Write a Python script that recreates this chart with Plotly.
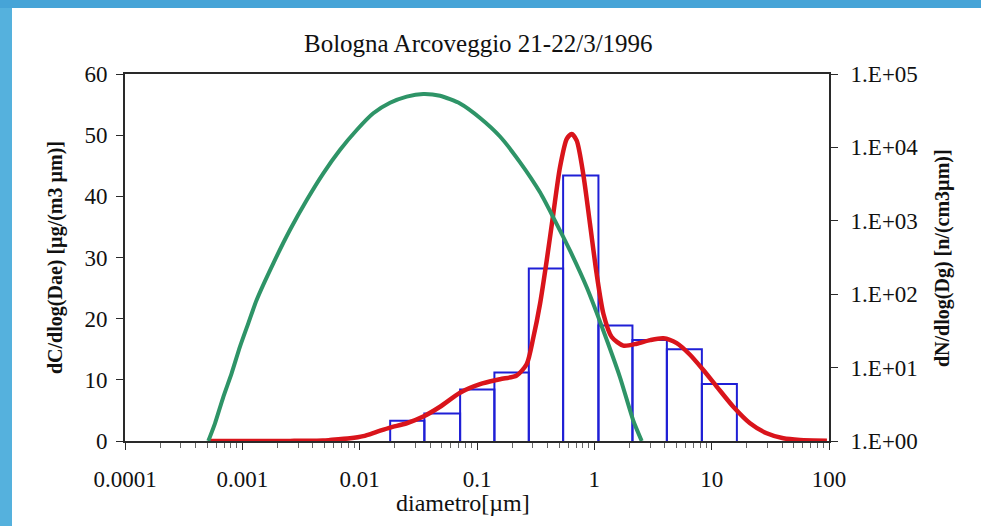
import plotly.graph_objects as go

# Impactor stages: bin edges (µm) and measured mass concentration per stage
bin_edges = [0.0182, 0.0356, 0.0718, 0.1407, 0.2764, 0.542, 1.084, 2.113, 4.151, 8.25, 16.4]
mass_bins = [3.3, 4.5, 8.4, 11.2, 28.2, 43.4, 18.9, 16.5, 15.0, 9.3]

# Fitted mass distribution dC/dlog(Dae) (left axis)
mass_fit_d = [0.000511, 0.00116, 0.00255, 0.00487, 0.00558, 0.00828, 0.01074, 0.01396,
              0.01816, 0.02518, 0.03483, 0.04842, 0.07161, 0.1062, 0.1570, 0.2178,
              0.2655, 0.3020, 0.3443, 0.3926, 0.4466, 0.5090, 0.5822, 0.6412, 0.7079,
              0.8052, 0.9183, 1.047, 1.194, 1.406, 1.766, 2.296, 2.985, 3.873, 5.036,
              6.536, 8.490, 11.04, 15.29, 21.23, 29.44, 40.81, 56.62, 96.0]
mass_fit = [0.0, 0.0, 0.02, 0.08, 0.16, 0.44, 0.8, 1.5,
            2.2, 2.9, 4.0, 5.6, 7.9, 9.3, 10.1, 10.7,
            12.6, 16.9, 22.4, 29.5, 37.1, 44.7, 49.4, 50.2, 49.1,
            43.6, 35.5, 27.3, 20.8, 17.0, 15.6, 15.9, 16.5, 16.8, 16.0,
            14.1, 11.6, 8.9, 5.6, 2.9, 1.26, 0.44, 0.16, 0.05]

# Fitted number distribution dN/dlog(Dg) (right axis)
number_fit_d = [0.000513, 0.000585, 0.000689, 0.000810, 0.000955, 0.001124, 0.001324,
                0.001837, 0.002545, 0.003540, 0.004897, 0.006788, 0.009441, 0.01306,
                0.01816, 0.02518, 0.03483, 0.04842, 0.07161, 0.1062, 0.1570, 0.2328,
                0.3443, 0.4466, 0.6209, 0.8610, 1.194, 1.655, 2.149, 2.535]
number_fit = [1.0, 1.74, 4.0, 8.36, 19.3, 40.1, 83.4,
              263.6, 749, 1920, 4437, 9220, 17260, 29150,
              40500, 49230, 53430, 50470, 39630, 25160, 14070, 6266,
              2445, 1116, 391.5, 124.1, 31.8, 7.38, 1.89, 1.0]

x_ticks = [0.0001, 0.001, 0.01, 0.1, 1, 10, 100]
x_labels = ["0.0001", "0.001", "0.01", "0.1", "1", "10", "100"]
y2_ticks = [1, 10, 100, 1000, 10000, 100000]
y2_labels = ["1.E+00", "1.E+01", "1.E+02", "1.E+03", "1.E+04", "1.E+05"]

# minor ticks at 2..9 within each decade
x_minor = [k * d for d in x_ticks[:-1] for k in range(2, 10)]

SERIF = "Liberation Serif, Times New Roman, serif"
AXIS_COLOR = "#2a2a2a"
TEXT_COLOR = "#111111"
FIG_W, FIG_H = 981, 526


def px_x(px):
    """Horizontal pixel position -> paper fraction."""
    return (px - 125) / 704


def px_y(py):
    """Vertical pixel position -> paper fraction."""
    return (441 - py) / 367


# Outline of each stage as a rectangle standing on the axis
hist_x, hist_y = [], []
for lo, hi, h in zip(bin_edges[:-1], bin_edges[1:], mass_bins):
    hist_x += [lo, lo, hi, hi, None]
    hist_y += [0, h, h, 0, None]

fig = go.Figure()
fig.add_trace(go.Scatter(x=hist_x, y=hist_y, mode="lines",
                         line=dict(color="#1f1fd6", width=2), showlegend=False,
                         hoverinfo="skip"))
fig.add_trace(go.Scatter(x=mass_fit_d, y=mass_fit, mode="lines",
                         line=dict(color="#d9141b", width=4.5, shape="spline", smoothing=0.7),
                         showlegend=False))
fig.add_trace(go.Scatter(x=number_fit_d, y=number_fit, mode="lines", yaxis="y2",
                         line=dict(color="#2e9467", width=4, shape="spline", smoothing=0.6),
                         showlegend=False))

# slide frame: blue bands along the top and left edges, kept inside the page
fig.add_shape(type="rect", xref="paper", yref="paper",
              x0=px_x(0), x1=px_x(FIG_W), y0=px_y(8), y1=px_y(0),
              fillcolor="#46a4d7", line=dict(width=0), layer="below")
fig.add_shape(type="rect", xref="paper", yref="paper",
              x0=px_x(0), x1=px_x(12), y0=px_y(FIG_H), y1=px_y(8),
              fillcolor="#55b1dd", line=dict(width=0), layer="below")

fig.update_layout(
    width=FIG_W, height=FIG_H,
    margin=dict(l=125, r=152, t=74, b=85),
    paper_bgcolor="white",
    plot_bgcolor="white",
    font=dict(family=SERIF, color=TEXT_COLOR, size=23),
    showlegend=False,
    xaxis=dict(type="log", range=[-4, 2], tickvals=x_ticks, ticktext=x_labels,
               showgrid=False, zeroline=False, showline=True, linecolor=AXIS_COLOR,
               linewidth=2, mirror=True, ticks="outside", ticklen=7, tickcolor=AXIS_COLOR,
               ticklabelstandoff=9,
               minor=dict(tickmode="array", tickvals=x_minor, ticks="outside", ticklen=5,
                          tickcolor="#666666", showgrid=False)),
    yaxis=dict(range=[0, 60], dtick=10, showgrid=False, zeroline=False, showline=True,
               linecolor=AXIS_COLOR, linewidth=2, ticks="outside", ticklen=7,
               tickcolor=AXIS_COLOR, ticklabelstandoff=4),
    yaxis2=dict(type="log", range=[0, 5], overlaying="y", side="right",
                tickvals=y2_ticks, ticktext=y2_labels, showgrid=False, zeroline=False,
                showline=True, linecolor=AXIS_COLOR, linewidth=2, ticks="outside",
                ticklen=7, tickcolor=AXIS_COLOR, ticklabelstandoff=8),
    annotations=[
        dict(text="Bologna Arcoveggio 21-22/3/1996", xref="paper", yref="paper",
             x=px_x(478), y=px_y(44), xanchor="center", yanchor="middle",
             showarrow=False, font=dict(family=SERIF, size=25, color=TEXT_COLOR)),
        dict(text="diametro[µm]", xref="paper", yref="paper",
             x=px_x(463), y=px_y(503), xanchor="center", yanchor="middle",
             showarrow=False, font=dict(family=SERIF, size=24, color=TEXT_COLOR)),
        dict(text="<b>dC/dlog(Dae) [µg/(m3 µm)]</b>", xref="paper", yref="paper",
             x=px_x(55), y=px_y(258), xanchor="center", yanchor="middle",
             showarrow=False, textangle=-90,
             font=dict(family=SERIF, size=20, color=TEXT_COLOR)),
        dict(text="<b>dN/dlog(Dg) [n/(cm3µm)]</b>", xref="paper", yref="paper",
             x=px_x(942), y=px_y(258), xanchor="center", yanchor="middle",
             showarrow=False, textangle=-90,
             font=dict(family=SERIF, size=20, color=TEXT_COLOR)),
    ],
)

fig.write_html("out.html")
